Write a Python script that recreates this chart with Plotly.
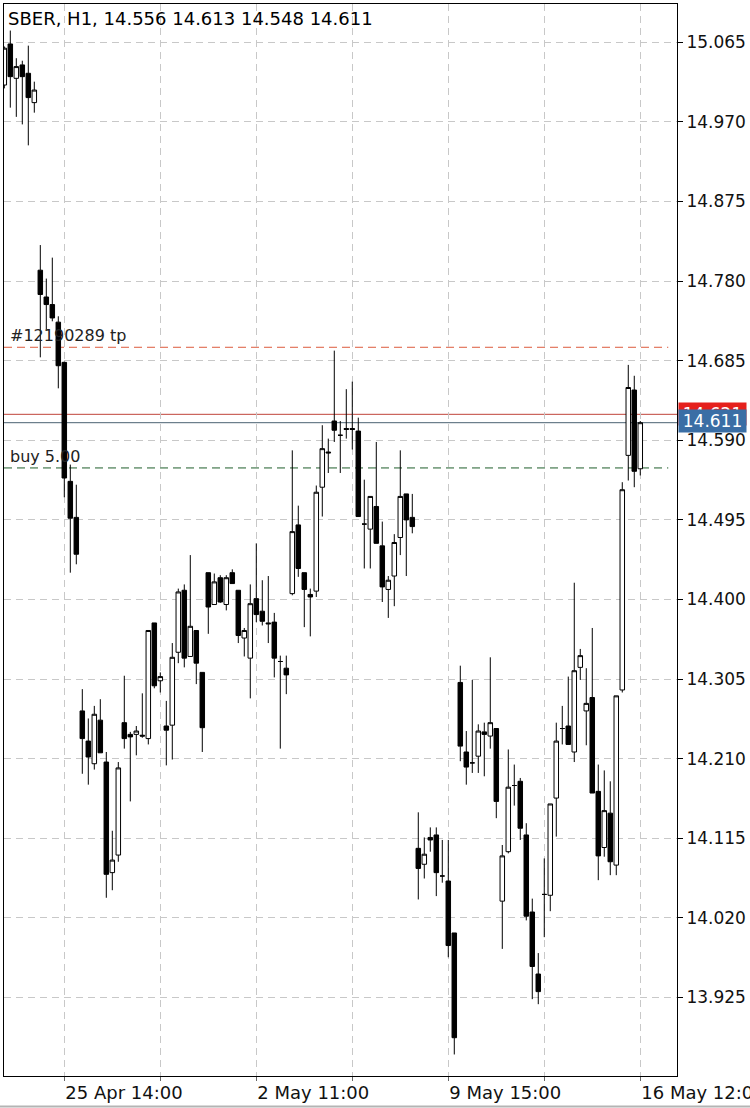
import plotly.graph_objects as go

# ---------------- data ----------------
chart_title = "SBER, H1, 14.556 14.613 14.548 14.611"

opens = [15.014, 15.063, 15.022, 15.038, 15.028, 14.993, 14.793, 14.761, 14.752, 14.731,
         14.683, 14.541, 14.498, 14.267, 14.231, 14.204, 14.256, 14.206, 14.074, 14.095,
         14.253, 14.239, 14.239, 14.238, 14.234, 14.372, 14.303, 14.249, 14.250, 14.337,
         14.411, 14.332, 14.363, 14.313, 14.432, 14.394, 14.426, 14.394, 14.432, 14.411,
         14.354, 14.330, 14.401, 14.386, 14.372, 14.373, 14.326, 14.318, 14.407, 14.489,
         14.432, 14.406, 14.410, 14.534, 14.576, 14.613, 14.596, 14.604, 14.604, 14.601,
         14.490, 14.484, 14.511, 14.464, 14.412, 14.428, 14.474, 14.526, 14.498, 14.103,
         14.084, 14.116, 14.119, 14.070, 14.064, 14.002, 14.301, 14.218, 14.205, 14.213,
         14.242, 14.237, 14.246, 14.040, 14.099, 14.178, 14.183, 14.119, 14.027, 13.953,
         14.048, 14.047, 14.163, 14.246, 14.249, 14.218, 14.319, 14.267, 14.283, 14.171,
         14.104, 14.145, 14.083, 14.292, 14.572, 14.650, 14.556]
highs = [15.060, 15.079, 15.046, 15.043, 15.061, 15.018, 14.823, 14.783, 14.808, 14.738,
         14.684, 14.561, 14.537, 14.293, 14.258, 14.273, 14.281, 14.218, 14.124, 14.206,
         14.309, 14.242, 14.249, 14.288, 14.363, 14.372, 14.313, 14.279, 14.348, 14.413,
         14.418, 14.453, 14.363, 14.313, 14.432, 14.431, 14.429, 14.429, 14.436, 14.411,
         14.366, 14.418, 14.467, 14.423, 14.428, 14.384, 14.333, 14.333, 14.578, 14.512,
         14.432, 14.413, 14.536, 14.608, 14.592, 14.697, 14.613, 14.651, 14.660, 14.617,
         14.543, 14.523, 14.588, 14.493, 14.428, 14.478, 14.578, 14.526, 14.526, 14.146,
         14.116, 14.128, 14.128, 14.113, 14.113, 14.002, 14.321, 14.243, 14.304, 14.251,
         14.253, 14.331, 14.246, 14.107, 14.221, 14.203, 14.187, 14.133, 14.043, 13.978,
         14.091, 14.156, 14.253, 14.273, 14.308, 14.420, 14.341, 14.318, 14.366, 14.203,
         14.196, 14.183, 14.285, 14.540, 14.680, 14.667, 14.613]
lows = [15.010, 14.987, 14.976, 14.967, 14.942, 14.981, 14.689, 14.722, 14.732, 14.652,
        14.522, 14.432, 14.442, 14.192, 14.179, 14.197, 14.217, 14.044, 14.053, 14.087,
        14.222, 14.159, 14.214, 14.235, 14.227, 14.294, 14.289, 14.202, 14.209, 14.324,
        14.319, 14.332, 14.299, 14.218, 14.359, 14.394, 14.396, 14.387, 14.419, 14.348,
        14.332, 14.282, 14.373, 14.369, 14.348, 14.307, 14.222, 14.287, 14.405, 14.427,
        14.367, 14.356, 14.403, 14.499, 14.551, 14.588, 14.551, 14.592, 14.579, 14.499,
        14.437, 14.437, 14.467, 14.397, 14.378, 14.392, 14.453, 14.428, 14.479, 14.042,
        14.067, 14.099, 14.046, 14.062, 13.973, 13.857, 14.207, 14.179, 14.193, 14.193,
        14.189, 14.222, 14.139, 13.983, 14.097, 14.154, 14.113, 14.017, 13.923, 13.917,
        13.997, 14.028, 14.117, 14.227, 14.227, 14.206, 14.304, 14.226, 14.169, 14.065,
        14.093, 14.071, 14.071, 14.289, 14.542, 14.534, 14.548]
closes = [15.058, 15.024, 15.036, 15.024, 14.999, 15.008, 14.764, 14.752, 14.736, 14.679,
          14.545, 14.497, 14.454, 14.234, 14.212, 14.263, 14.217, 14.072, 14.089, 14.199,
          14.234, 14.236, 14.243, 14.237, 14.363, 14.297, 14.308, 14.244, 14.331, 14.409,
          14.330, 14.368, 14.324, 14.247, 14.391, 14.421, 14.397, 14.426, 14.419, 14.357,
          14.363, 14.395, 14.382, 14.374, 14.371, 14.330, 14.326, 14.310, 14.481, 14.437,
          14.412, 14.403, 14.528, 14.580, 14.575, 14.602, 14.596, 14.603, 14.603, 14.499,
          14.490, 14.523, 14.467, 14.415, 14.423, 14.468, 14.523, 14.495, 14.487, 14.079,
          14.096, 14.113, 14.074, 14.070, 13.987, 13.877, 14.225, 14.200, 14.205, 14.243,
          14.239, 14.253, 14.159, 14.094, 14.176, 14.178, 14.127, 14.022, 13.962, 13.932,
          14.048, 14.156, 14.231, 14.246, 14.227, 14.315, 14.333, 14.276, 14.169, 14.094,
          14.148, 14.087, 14.285, 14.531, 14.653, 14.553, 14.611]
bar_index = list(range(len(opens)))

price_ticks = [13.925, 14.020, 14.115, 14.210, 14.305, 14.400, 14.495,
               14.590, 14.685, 14.780, 14.875, 14.970, 15.065]
price_tick_text = ["13.925", "14.020", "14.115", "14.210", "14.305", "14.400", "14.495",
                   "14.590", "14.685", "14.780", "14.875", "14.970", "15.065"]
time_tick_bars = [10, 26, 42, 58, 74, 90, 106]
time_tick_text = ["25 Apr 14:00", "", "2 May 11:00", "", "9 May 15:00", "", "16 May 12:00"]

tp_price = 14.701
tp_label = "#12190289 tp"
buy_price = 14.557
buy_label = "buy 5.00"
ask_price = 14.621
bid_price = 14.611

# ---------------- figure ----------------
FONT = "DejaVu Sans"

fig = go.Figure(go.Candlestick(
    x=bar_index, open=opens, high=highs, low=lows, close=closes,
    increasing=dict(line=dict(color="black", width=1), fillcolor="white"),
    decreasing=dict(line=dict(color="black", width=1), fillcolor="black"),
    whiskerwidth=0, hoverinfo="skip", showlegend=False,
))

grid = dict(showgrid=True, gridcolor="#c8c8c8", gridwidth=1, griddash="7px,5px",
            zeroline=False, showline=True, linecolor="black", linewidth=1, mirror=True,
            automargin=False, fixedrange=True)

fig.update_layout(
    template="none",
    width=750, height=1108,
    margin=dict(l=4, r=73, t=4, b=32),
    paper_bgcolor="white", plot_bgcolor="white",
    boxgap=0.25, boxgroupgap=0,
    xaxis=dict(range=[-0.05, 112.12], tickmode="array", tickvals=time_tick_bars,
               ticktext=time_tick_text, ticks="outside", ticklen=4, tickcolor="#666",
               ticklabelposition="outside right", ticklabeloverflow="allow",
               tickfont=dict(family=FONT, size=18, color="#111"),
               rangeslider=dict(visible=False), **grid),
    yaxis=dict(side="right", range=[13.8313, 15.1107], tickmode="array",
               tickvals=price_ticks, ticktext=price_tick_text, ticks="outside",
               ticklen=5, tickcolor="black",
               tickfont=dict(family=FONT, size=17, color="#111"), **grid),
    shapes=[
        dict(type="line", xref="paper", x0=0, x1=0.987, yref="y", y0=tp_price, y1=tp_price,
             line=dict(color="#dc5a3c", width=1, dash="8px,5px"), layer="between"),
        dict(type="line", xref="paper", x0=0, x1=0.987, yref="y", y0=buy_price, y1=buy_price,
             line=dict(color="#1f5e2b", width=1, dash="8px,5px"), layer="between"),
        dict(type="line", xref="paper", x0=0, x1=1, yref="y", y0=ask_price, y1=ask_price,
             line=dict(color="#c0443a", width=1), layer="between"),
        dict(type="line", xref="paper", x0=0, x1=1, yref="y", y0=bid_price, y1=bid_price,
             line=dict(color="#4a6272", width=1), layer="between"),
        dict(type="line", xref="paper", x0=-0.01, x1=1.2, yref="paper", y0=-0.0285, y1=-0.0285,
             line=dict(color="#b4b4b4", width=2)),
    ],
    annotations=[
        dict(text=chart_title, xref="paper", x=0, yref="paper", y=1, xanchor="left",
             yanchor="top", xshift=2, yshift=-2, showarrow=False,
             font=dict(family=FONT, size=18, color="black")),
        dict(text=tp_label, xref="paper", x=0, yref="y", y=tp_price, xanchor="left",
             yanchor="bottom", xshift=4, showarrow=False,
             font=dict(family=FONT, size=16, color="#222")),
        dict(text=buy_label, xref="paper", x=0, yref="y", y=buy_price, xanchor="left",
             yanchor="bottom", xshift=4, showarrow=False,
             font=dict(family=FONT, size=16, color="#222")),
        dict(text=f"{ask_price:.3f}", xref="paper", x=1, yref="y", y=ask_price,
             xanchor="left", yanchor="middle", xshift=1, yshift=0, showarrow=False,
             bgcolor="#e5201c", width=67, height=22, borderpad=0,
             font=dict(family=FONT, size=17, color="white")),
        dict(text=f"{bid_price:.3f}", xref="paper", x=1, yref="y", y=bid_price,
             xanchor="left", yanchor="middle", xshift=1, yshift=1.5, showarrow=False,
             bgcolor="#3a6ea5", width=67, height=22, borderpad=0,
             font=dict(family=FONT, size=17, color="white")),
    ],
)

fig.write_html("out.html",
               config={"displayModeBar": False, "staticPlot": True},
               post_script="document.body.style.margin='0px';"
                           "document.body.style.overflow='hidden';")
